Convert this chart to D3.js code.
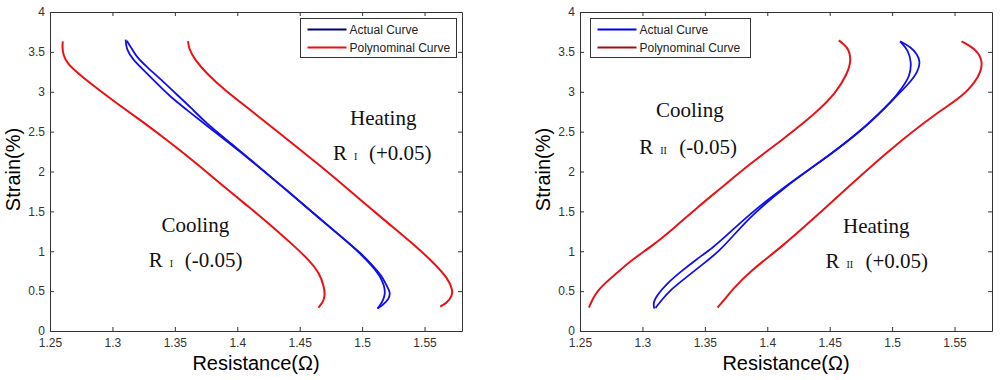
<!DOCTYPE html>
<html>
<head>
<meta charset="utf-8">
<script src="https://cdn.jsdelivr.net/npm/d3@7"></script>
<style>
  body { margin: 0; background: #fff; }
  svg { display: block; }
  .axis text { font-family: "Liberation Sans", Arial, sans-serif; font-size: 12px; fill: #333; }
  .axis path, .axis line { stroke: #333; }
</style>
</head>
<body>
<svg id="chart"></svg>
<script>
// ticks
const xTicks = [1.25, 1.3, 1.35, 1.4, 1.45, 1.5, 1.55];
const yTicks = [0, 0.5, 1, 1.5, 2, 2.5, 3, 3.5, 4];
const legendLabels = ["Actual Curve", "Polynominal Curve"];

// panel 1 (R I) : [resistance, strain]
const r1Cooling = [[1.2603,3.632],[1.2598,3.569],[1.2605,3.46],[1.2640,3.35],[1.2725,3.23],[1.2871,3.048],[1.3031,2.86],[1.3218,2.651],[1.3433,2.40],[1.3660,2.12],[1.3900,1.80],[1.4101,1.545],[1.4270,1.325],[1.4460,1.060],[1.4583,0.877],[1.4655,0.731],[1.4695,0.564],[1.4703,0.438],[1.4685,0.356],[1.4649,0.293]];
const r1Heating = [[1.3606,3.635],[1.3612,3.540],[1.3660,3.400],[1.3760,3.220],[1.3900,3.020],[1.4101,2.777],[1.4369,2.442],[1.4636,2.109],[1.4890,1.775],[1.5171,1.399],[1.5430,1.065],[1.5590,0.830],[1.5685,0.660],[1.5725,0.522],[1.5720,0.438],[1.5680,0.356],[1.5626,0.306]];
const r1ActualA = [[1.3106,3.653],[1.3112,3.528],[1.3165,3.403],[1.3245,3.278],[1.3352,3.111],[1.3459,2.943],[1.3593,2.777],[1.3726,2.610],[1.3967,2.317],[1.4101,2.150],[1.4369,1.800],[1.4636,1.440],[1.4877,1.127],[1.4984,0.982],[1.5091,0.814],[1.5158,0.689],[1.5198,0.564],[1.5228,0.481],[1.5213,0.397],[1.5171,0.334],[1.5123,0.281]];
const r1ActualB = [[1.3115,3.640],[1.3152,3.549],[1.3190,3.444],[1.3270,3.319],[1.3390,3.152],[1.3518,2.960],[1.3630,2.800],[1.3740,2.620],[1.3975,2.320],[1.4105,2.150],[1.4372,1.800],[1.4638,1.440],[1.4870,1.130],[1.4975,0.985],[1.5078,0.820],[1.5145,0.690],[1.5178,0.564],[1.5185,0.470],[1.5170,0.390],[1.5140,0.315],[1.5123,0.281]];

// panel 2 (R II)
const r2Cooling = [[1.2572,0.293],[1.2600,0.40],[1.2640,0.50],[1.2700,0.60],[1.2790,0.72],[1.2920,0.898],[1.3090,1.08],[1.3260,1.30],[1.3440,1.55],[1.3620,1.78],[1.3856,2.09],[1.4124,2.401],[1.4391,2.735],[1.4551,2.986],[1.4645,3.236],[1.4672,3.403],[1.4653,3.528],[1.4618,3.591],[1.4573,3.644]];
const r2Heating = [[1.3602,0.293],[1.3660,0.40],[1.3722,0.522],[1.3856,0.741],[1.4124,1.065],[1.4392,1.44],[1.4633,1.785],[1.4981,2.276],[1.5355,2.735],[1.5569,2.943],[1.5702,3.194],[1.5729,3.381],[1.5676,3.528],[1.5556,3.632]];
const r2ActualA = [[1.3095,0.281],[1.3085,0.36],[1.3123,0.46],[1.3190,0.585],[1.3297,0.731],[1.3431,0.898],[1.3565,1.044],[1.3698,1.232],[1.3856,1.461],[1.4124,1.796],[1.4526,2.234],[1.4794,2.567],[1.5008,2.902],[1.5141,3.111],[1.5208,3.256],[1.5226,3.381],[1.5200,3.47],[1.5150,3.56],[1.5064,3.632]];
const r2ActualB = [[1.3105,0.29],[1.3147,0.376],[1.3228,0.522],[1.3348,0.669],[1.3482,0.835],[1.3616,1.002],[1.3730,1.20],[1.3870,1.44],[1.4128,1.796],[1.4528,2.234],[1.4794,2.567],[1.5000,2.88],[1.5088,3.068],[1.5141,3.194],[1.5156,3.361],[1.5130,3.52],[1.5064,3.632]];

const width = 1000, height = 380;
const svg = d3.select("#chart").attr("width", width).attr("height", height);

function drawPanel(p) {
    const w = 412, h = 319;
    const x = d3.scaleLinear().domain([1.25, 1.58]).range([0, w]);
    const y = d3.scaleLinear().domain([0, 4]).range([h, 0]);

    const g = svg.append("g").attr("transform", `translate(${p.left},12)`);

    // axes, ticks pointing in, box on all sides
    g.append("g").attr("class", "axis").attr("transform", `translate(0,${h})`)
        .call(d3.axisBottom(x).tickValues(xTicks).tickSize(-4).tickSizeOuter(0).tickPadding(7).tickFormat(String));
    g.append("g").attr("class", "axis")
        .call(d3.axisLeft(y).tickValues(yTicks).tickSize(-4).tickSizeOuter(0).tickPadding(5).tickFormat(String));
    g.append("g").attr("class", "axis")
        .call(d3.axisTop(x).tickValues(xTicks).tickSize(-4).tickSizeOuter(0).tickFormat(""));
    g.append("g").attr("class", "axis").attr("transform", `translate(${w},0)`)
        .call(d3.axisRight(y).tickValues(yTicks).tickSize(-4).tickSizeOuter(0).tickFormat(""));

    const line = d3.line()
        .x(d => x(d[0]))
        .y(d => y(d[1]))
        .curve(d3.curveBasis);

    g.selectAll(".poly")
        .data(p.poly)
        .enter()
        .append("path")
        .attr("class", "poly")
        .attr("d", line)
        .attr("fill", "none")
        .attr("stroke", p.polyColor)
        .attr("stroke-width", 2);

    g.selectAll(".actual")
        .data(p.actual)
        .enter()
        .append("path")
        .attr("class", "actual")
        .attr("d", line)
        .attr("fill", "none")
        .attr("stroke", "#1010e8")
        .attr("stroke-width", 1.8);

    // axis titles
    g.append("text")
        .attr("x", w / 2).attr("y", 358)
        .attr("text-anchor", "middle")
        .style("font-family", "Liberation Sans, Arial, sans-serif")
        .style("font-size", "20px")
        .text("Resistance(Ω)");
    g.append("text")
        .attr("transform", `translate(-30,${h / 2 - 2}) rotate(-90)`)
        .attr("text-anchor", "middle")
        .style("font-family", "Liberation Sans, Arial, sans-serif")
        .style("font-size", "20px")
        .text("Strain(%)");

    // legend
    const lg = g.append("g").attr("transform", `translate(${p.legendX},6.5)`);
    lg.append("rect")
        .attr("width", p.legendW).attr("height", 39)
        .attr("fill", "#fff").attr("stroke", "#333");
    legendLabels.forEach((label, i) => {
        const ly = 11 + i * 18;
        lg.append("line")
            .attr("x1", 7).attr("x2", 46).attr("y1", ly).attr("y2", ly)
            .attr("stroke", p.legendColors[i]).attr("stroke-width", 2);
        lg.append("text")
            .attr("x", 49).attr("y", ly + 4)
            .style("font-family", "Liberation Sans, Arial, sans-serif")
            .style("font-size", "12px")
            .attr("fill", "#222")
            .text(label);
    });

    // annotations
    p.notes.forEach(n => {
        const t = g.append("text")
            .attr("x", x(n.x)).attr("y", y(n.y))
            .attr("text-anchor", n.r ? "start" : "middle")
            .style("font-family", "Liberation Serif, 'Times New Roman', serif")
            .style("font-size", "21px")
            .attr("fill", "#111");
        if (!n.r) {
            t.text(n.label);
        } else {
            const x0 = x(n.x);
            t.append("tspan").text("R");
            t.append("tspan").attr("x", x0 + 21).style("font-size", "10px").text(n.r);
            t.append("tspan").attr("x", x0 + (n.r.length > 1 ? 40 : 36)).text(n.label);
        }
    });
}

drawPanel({
    left: 50,
    poly: [r1Cooling, r1Heating],
    actual: [r1ActualA, r1ActualB],
    polyColor: "#ec1010",
    legendX: 250.5, legendW: 156,
    legendColors: ["#00007a", "#e81010"],
    notes: [
        { x: 1.5169, y: 2.589, label: "Heating" },
        { x: 1.4767, y: 2.150, r: "I", label: "(+0.05)" },
        { x: 1.3664, y: 1.236, label: "Cooling" },
        { x: 1.3291, y: 0.798, r: "I", label: "(-0.05)" }
    ]
});

drawPanel({
    left: 580,
    poly: [r2Cooling, r2Heating],
    actual: [r2ActualA, r2ActualB],
    polyColor: "#e41418",
    legendX: 10.5, legendW: 160,
    legendColors: ["#0000f0", "#a01010"],
    notes: [
        { x: 1.3380, y: 2.685, label: "Cooling" },
        { x: 1.2974, y: 2.225, r: "II", label: "(-0.05)" },
        { x: 1.4873, y: 1.232, label: "Heating" },
        { x: 1.4466, y: 0.794, r: "II", label: "(+0.05)" }
    ]
});
</script>
</body>
</html>
